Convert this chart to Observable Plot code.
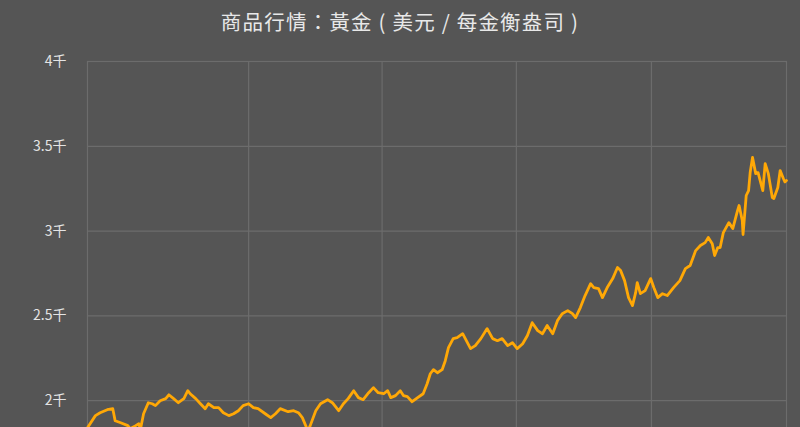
<!DOCTYPE html>
<html>
<head>
<meta charset="utf-8">
<script src="https://cdn.jsdelivr.net/npm/d3@7"></script>
<script src="https://cdn.jsdelivr.net/npm/@observablehq/plot@0.6"></script>
<style>
  html, body { margin: 0; padding: 0; background: #555555; }
  body { width: 800px; overflow: hidden; font-family: "Noto Sans CJK TC", "Noto Sans", sans-serif; }
  #title { height: 40px; line-height: 42px; text-align: center; color: #e8e8e8; font-size: 20.5px; letter-spacing: 1.2px; white-space: pre; }
  #chart svg { display: block; }
</style>
</head>
<body>
<div id="title"></div>
<div id="chart"></div>
<script>
const title = "商品行情：黃金 ( 美元 / 每金衡盎司 )";
const startDate = "2023-01-03";
// days since start date
const days = [0,10,16,25,32,33,35,42,51,54,61,65,67,71,77,82,86,92,99,103,109,115,122,127,130,137,143,149,153,160,166,172,179,185,191,197,204,210,216,225,232,238,244,254,261,267,272,279,282,289,295,304,310,318,324,330,337,343,349,356,362,368,375,380,384,390,396,400,405,411,418,425,430,434,438,443,449,453,457,463,468,475,479,485,491,498,506,513,519,525,532,538,544,551,557,563,570,576,582,589,595,601,608,614,618,624,630,637,641,647,652,658,665,671,675,680,685,690,694,696,700,706,713,717,722,728,734,742,750,757,763,770,776,782,786,791,794,798,801,805,812,817,823,825,829,830,834,837,839,842,846,849,855,858,862,867,869,874,877,881,883,885];
// price, USD per troy ounce
const prices = [1841,1912,1929,1947,1953,1929,1882,1870,1853,1835,1853,1864,1830,1923,1988,1982,1971,2000,2012,2035,2012,1988,2012,2059,2041,2012,1982,1953,1982,1959,1959,1929,1912,1923,1941,1971,1982,1959,1953,1923,1900,1923,1953,1935,1941,1929,1900,1823,1853,1941,1982,2006,1988,1941,1982,2012,2059,2018,2006,2047,2077,2047,2041,2059,2018,2030,2059,2030,2024,1994,2018,2041,2100,2159,2183,2165,2183,2236,2313,2366,2372,2395,2360,2307,2325,2366,2425,2366,2354,2366,2325,2342,2307,2336,2384,2460,2413,2395,2443,2395,2472,2513,2531,2513,2490,2549,2620,2690,2667,2661,2608,2667,2720,2785,2767,2708,2608,2561,2637,2696,2631,2649,2720,2667,2608,2631,2620,2667,2708,2779,2797,2885,2915,2932,2962,2926,2856,2903,2903,2991,3050,3015,3121,3151,3062,2980,3210,3239,3345,3434,3339,3345,3239,3398,3339,3198,3192,3257,3357,3310,3290,3298];
const yTicks = [2000, 2500, 3000, 3500, 4000];
const xTicks = ["2023-07-26", "2024-01-11", "2024-06-29", "2024-12-17"];
const xEndDay = 885;

document.getElementById("title").textContent = title;

const start = new Date(startDate + "T00:00:00Z");
const addDays = d => new Date(start.getTime() + d * 86400000);
const data = days.map((d, i) => ({date: addDays(d), price: prices[i]}));
const xTickDates = xTicks.map(s => new Date(s + "T00:00:00Z"));

const grid = "#6c6c6c";
const chart = Plot.plot({
  width: 800,
  height: 485,
  marginLeft: 87,
  marginRight: 14,
  marginTop: 21,
  marginBottom: 40,
  style: {background: "#555555", color: "#e4e4e4", fontSize: "14px", fontFamily: "'Noto Sans CJK TC', 'Noto Sans', sans-serif"},
  x: {type: "utc", domain: [start, addDays(xEndDay)], ticks: xTickDates, tickFormat: () => "", tickSize: 0},
  y: {domain: [1500, 4000], ticks: yTicks, tickFormat: d => (d / 1000) + "千", tickSize: 0, tickPadding: 21, label: null},
  marks: [
    Plot.gridX(xTickDates, {stroke: grid, strokeOpacity: 1, strokeWidth: 1.2}),
    Plot.gridY(yTicks, {stroke: grid, strokeOpacity: 1, strokeWidth: 1.2}),
    Plot.frame({stroke: grid, strokeWidth: 1.2}),
    Plot.axisY({ticks: yTicks, tickFormat: d => (d / 1000) + "千", tickSize: 0, tickPadding: 21, label: null, fill: "#e4e4e4"}),
    Plot.line(data, {x: "date", y: "price", stroke: "#ffa806", strokeWidth: 2.8, strokeLinejoin: "round"})
  ]
});
document.getElementById("chart").appendChild(chart);
</script>
</body>
</html>
